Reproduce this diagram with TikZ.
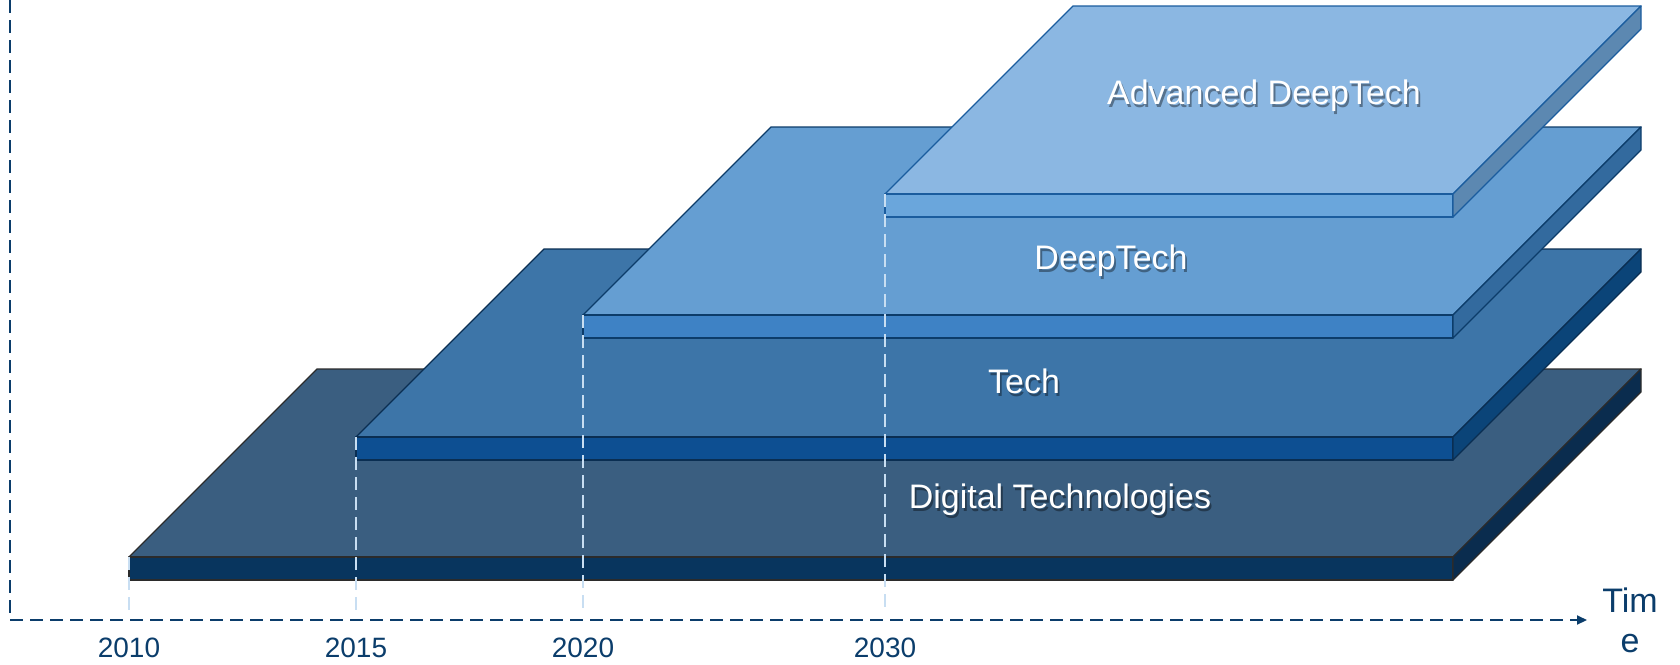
\documentclass[tikz,border=0pt]{standalone}
\usepackage{fontspec}
\setmainfont{Liberation Sans}
\usetikzlibrary{arrows.meta}
\definecolor{digTop}{HTML}{3A5E80}
\definecolor{digFront}{HTML}{08355E}
\definecolor{digSide}{HTML}{0A2C4E}
\definecolor{digLine}{HTML}{2B2B2B}
\definecolor{techTop}{HTML}{3D75A8}
\definecolor{techFront}{HTML}{0D4F92}
\definecolor{techSide}{HTML}{0B4478}
\definecolor{techLine}{HTML}{0A2E52}
\definecolor{deepTop}{HTML}{659ED2}
\definecolor{deepFront}{HTML}{3E82C5}
\definecolor{deepSide}{HTML}{336A9E}
\definecolor{deepLine}{HTML}{0C3C6A}
\definecolor{advTop}{HTML}{8BB7E2}
\definecolor{advFront}{HTML}{6AA6DC}
\definecolor{advSide}{HTML}{5C88B1}
\definecolor{advLine}{HTML}{1A5C9E}
\definecolor{axisBlue}{HTML}{0B3D6B}
\definecolor{lightDash}{HTML}{C8DEF2}
% #1 left x, #2 front top y, #3 top fill, #4 front fill, #5 side fill, #6 outline
\newcommand\myslab[6]{%
  \filldraw[slabedge,fill=#3,draw=#6] (#1,#2) -- (1453,#2) -- (1641,#2-188) -- (#1+188,#2-188) -- cycle;
  \filldraw[slabedge,fill=#4,draw=#6] (#1,#2) -- (1453,#2) -- (1453,#2+23) -- (#1,#2+23) -- cycle;
  \filldraw[slabedge,fill=#5,draw=#6] (1453,#2) -- (1641,#2-188) -- (1641,#2-165) -- (1453,#2+23) -- cycle;
}
% white text with a soft shadow in the same box: #1 shadow colour, #2 text
\newcommand\shadowtext[2]{%
  \makebox[0pt][l]{\hspace{0.9pt}\raisebox{-1.3pt}{\textcolor{#1}{#2}}}#2}
\begin{document}
\begin{tikzpicture}[x=0.5pt,y=-0.5pt,
  slabedge/.style={line width=0.65pt,line join=round},
  axisline/.style={draw=axisBlue,line width=1pt,dash pattern=on 6.5pt off 3.5pt},
  yeardash/.style={draw=lightDash,line width=0.8pt,dash pattern=on 6.5pt off 3.5pt},
  lbl/.style={text=white,font=\fontsize{17}{20}\selectfont,inner sep=0pt},
  yearlbl/.style={text=axisBlue,font=\fontsize{14}{17}\selectfont,inner sep=0pt},
  timelbl/.style={text=axisBlue,font=\fontsize{17}{20}\selectfont,inner sep=0pt,align=center}]
\useasboundingbox (0,0) rectangle (1680,664);

% slabs
\myslab{129}{557}{digTop}{digFront}{digSide}{digLine}
\myslab{356}{437}{techTop}{techFront}{techSide}{techLine}
\myslab{583}{315}{deepTop}{deepFront}{deepSide}{deepLine}
\myslab{885}{194}{advTop}{advFront}{advSide}{advLine}

% axes
\coordinate (ytop) at (10,0);
\coordinate (orig) at (10,620);
\coordinate (xend) at (1587,620);
\draw[axisline] (ytop) -- (orig);
\draw[axisline,-{Triangle[length=5pt,width=4.5pt]}] (orig) -- (xend);

% year guide lines
\coordinate (g1a) at (129,557); \coordinate (g1b) at (129,612);
\coordinate (g2a) at (356,437); \coordinate (g2b) at (356,612);
\coordinate (g3a) at (583,315); \coordinate (g3b) at (583,612);
\coordinate (g4a) at (885,194); \coordinate (g4b) at (885,612);
\draw[yeardash] (g1a) -- (g1b);
\draw[yeardash] (g2a) -- (g2b);
\draw[yeardash] (g3a) -- (g3b);
\draw[yeardash] (g4a) -- (g4b);

% year labels
\node[yearlbl] (y2010) at (129,648) {2010};
\node[yearlbl] (y2015) at (356,648) {2015};
\node[yearlbl] (y2020) at (583,648) {2020};
\node[yearlbl] (y2030) at (885,648) {2030};
\node[timelbl] (time) at (1630,620) {Tim\\e};

% layer labels
\node[lbl] (adv) at (1264,97) {\shadowtext{advTop!62!black}{Advanced DeepTech}};
\node[lbl] (deep) at (1111,262) {\shadowtext{deepTop!62!black}{DeepTech}};
\node[lbl] (tech) at (1024,383) {\shadowtext{techTop!62!black}{Tech}};
\node[lbl] (dig) at (1060,501) {\shadowtext{digTop!62!black}{Digital Technologies}};
\end{tikzpicture}
\end{document}
